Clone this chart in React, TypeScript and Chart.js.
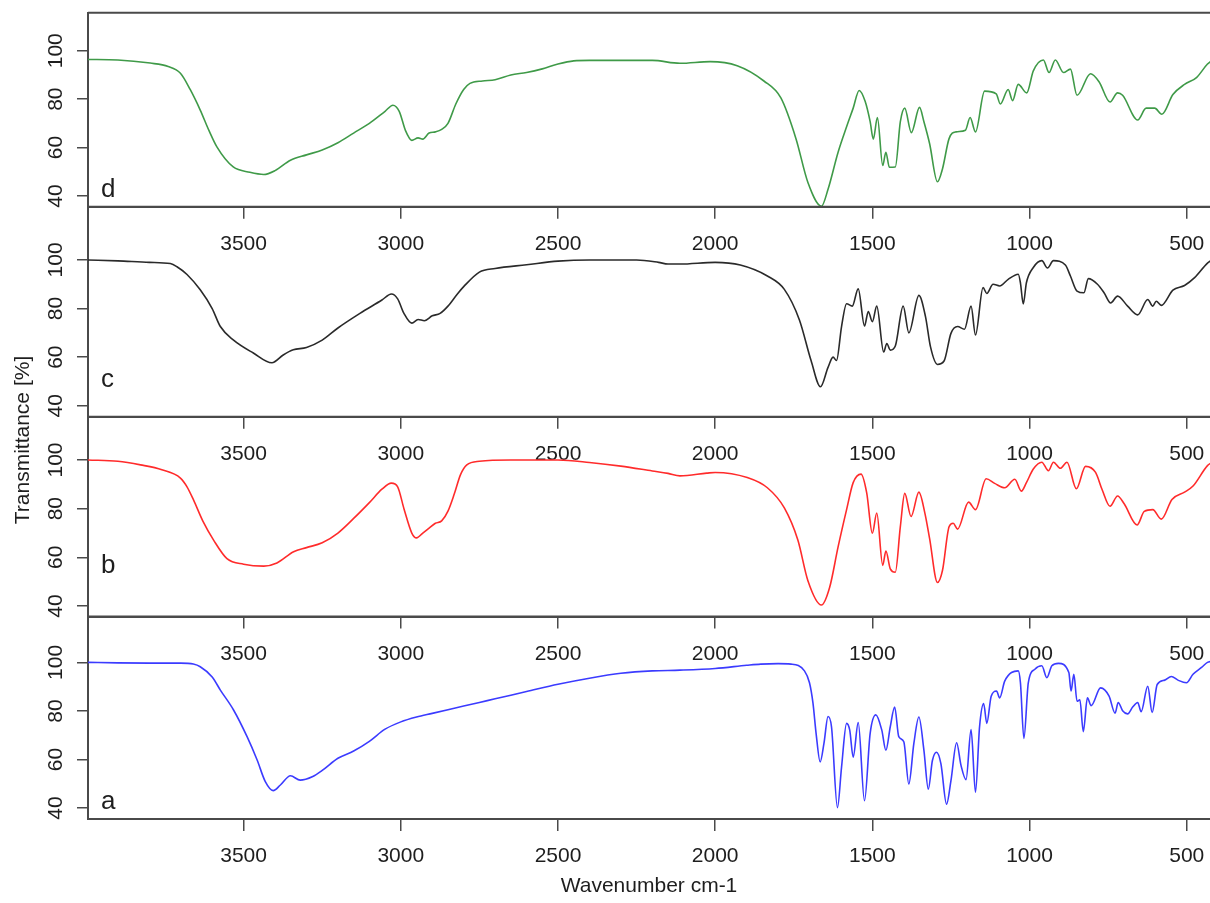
import React, { useEffect, useRef } from 'react';
import { Chart, registerables } from 'chart.js';

Chart.register(...registerables);

// ---------- data ----------
const X_TICKS = [3500, 3000, 2500, 2000, 1500, 1000, 500];
const Y_TICKS = [40, 60, 80, 100];
const WN_MIN = 426;
const WN_MAX = 3995;

// spectrum a (blue)
const A_WN = [3995, 3900, 3800, 3700, 3660, 3638, 3600, 3574, 3532, 3489, 3457, 3431, 3406, 3383, 3351, 3320, 3280, 3250, 3200, 3150, 3100, 3050, 3000, 2950, 2900, 2850, 2800, 2750, 2700, 2600, 2500, 2400, 2300, 2200, 2112, 2000, 1900, 1855, 1800, 1759, 1716, 1700, 1689, 1679, 1666, 1654, 1641, 1630, 1611, 1598, 1582, 1572, 1561, 1545, 1525, 1507, 1489, 1470, 1457, 1443, 1429, 1416, 1400, 1384, 1368, 1352, 1336, 1322, 1309, 1296, 1282, 1264, 1250, 1232, 1218, 1202, 1186, 1172, 1159, 1146, 1136, 1122, 1105, 1095, 1079, 1036, 1029, 1018, 1004, 983, 961, 945, 929, 908, 875, 868, 859, 849, 840, 829, 816, 804, 774, 747, 728, 718, 704, 688, 672, 656, 645, 624, 610, 594, 570, 549, 528, 501, 480, 453, 434, 420];
const A_T = [100, 99.8, 99.7, 99.7, 99.3, 98.2, 94, 88.6, 80.4, 69.4, 59.8, 50.9, 47.2, 49.5, 53.3, 51.5, 53, 55.5, 60.5, 63.5, 67.5, 72.5, 75.5, 77.5, 79, 80.5, 82, 83.5, 85, 88, 91, 93.5, 95.5, 96.5, 96.8, 97.5, 98.8, 99.3, 99.5, 99.3, 96.5, 91.6, 83.3, 70.8, 59, 66.6, 77.7, 73.5, 40.2, 56.9, 74.9, 72.1, 61, 75.2, 43, 70.8, 78.4, 72.1, 63.8, 73.5, 81.6, 69.4, 67.3, 49.9, 66.6, 77.5, 63.8, 47.8, 59.6, 63, 58.3, 41.6, 51.3, 66.9, 57.6, 51.7, 72.3, 46.5, 73.5, 83, 74.9, 86.1, 88.2, 85.4, 92.3, 96.5, 91.6, 68.7, 91.6, 97.2, 98.6, 93.7, 98.6, 99.6, 95.8, 88.2, 95.1, 84, 84.6, 71.5, 85.4, 82.2, 89.5, 86.1, 79.1, 83.5, 80.1, 78.8, 81.6, 83.5, 79.7, 90.2, 79.4, 90.9, 92.7, 94.2, 92.7, 91.6, 95.1, 97.9, 100, 100.5];

// spectrum b (red)
const B_WN = [3995, 3900, 3828, 3760, 3701, 3680, 3659, 3630, 3595, 3553, 3500, 3436, 3394, 3341, 3300, 3250, 3200, 3150, 3100, 3060, 3030, 3010, 2990, 2965, 2950, 2930, 2910, 2890, 2870, 2850, 2830, 2810, 2790, 2750, 2650, 2500, 2400, 2300, 2200, 2150, 2112, 2027, 2000, 1898, 1834, 1780, 1737, 1705, 1662, 1636, 1609, 1582, 1561, 1536, 1518, 1500, 1486, 1467, 1457, 1443, 1427, 1411, 1397, 1377, 1352, 1333, 1318, 1293, 1277, 1256, 1243, 1229, 1194, 1172, 1138, 1111, 1079, 1047, 1026, 1010, 988, 961, 940, 924, 902, 881, 851, 822, 790, 769, 744, 720, 699, 658, 635, 608, 581, 547, 507, 480, 434, 420];
const B_T = [100, 99.5, 98, 96, 92.6, 89, 83.5, 75, 67, 59.5, 57.2, 56.4, 57.7, 62.3, 64, 66, 70, 76, 82.5, 88, 90.5, 89, 80, 70, 68, 70, 72, 74, 75, 79, 86, 94, 98, 99.5, 100, 100, 99, 97.5, 95.5, 94.5, 93.5, 94.6, 94.9, 92.8, 88.6, 80.3, 67.1, 50.4, 40.4, 47.6, 64.3, 79.6, 90.7, 94.2, 86.5, 69.9, 78.2, 56.7, 62.6, 55.3, 53.9, 72.6, 86.3, 76.8, 86.8, 78.2, 67.8, 49.7, 54.6, 72.6, 74, 71.6, 82.7, 79.6, 92.3, 90.4, 88.6, 92.1, 87.2, 90.7, 96.3, 99.1, 95.6, 99.1, 96.6, 99.1, 88.2, 97.4, 94.9, 87.8, 81, 85.2, 82, 73.3, 78.9, 79.6, 75.7, 83.8, 86.8, 89.3, 97.7, 99];

// spectrum c (black)
const C_WN = [3995, 3900, 3800, 3733, 3712, 3680, 3638, 3600, 3574, 3532, 3469, 3410, 3374, 3342, 3300, 3250, 3200, 3130, 3060, 3030, 3010, 2990, 2965, 2945, 2925, 2900, 2875, 2850, 2820, 2800, 2750, 2700, 2600, 2500, 2400, 2250, 2180, 2150, 2112, 2000, 1920, 1834, 1780, 1732, 1695, 1665, 1641, 1625, 1614, 1598, 1582, 1564, 1545, 1525, 1513, 1500, 1486, 1464, 1454, 1443, 1427, 1402, 1384, 1352, 1331, 1315, 1293, 1272, 1250, 1229, 1207, 1186, 1172, 1148, 1136, 1116, 1095, 1068, 1036, 1029, 1020, 1010, 988, 961, 943, 924, 886, 870, 849, 827, 813, 784, 763, 742, 720, 688, 656, 624, 608, 597, 581, 544, 507, 475, 434, 420];
const C_T = [100, 99.6, 99, 98.5, 97.2, 94, 87.7, 80, 72.6, 67, 61.7, 57.7, 60.9, 63, 64, 67, 72, 78, 83.5, 86, 84, 78, 74, 75.5, 75, 77, 78, 81, 86, 89, 95, 96.5, 98, 99.5, 100, 100, 99, 98.3, 98.3, 99, 97.9, 93.4, 87.9, 75.3, 58.6, 47.8, 55.8, 60, 58.6, 72.6, 82, 81, 88.1, 72.8, 78.8, 74.6, 81, 62.1, 65.6, 62.9, 64.6, 81, 70, 85.4, 76.7, 64.2, 57, 58.4, 69.8, 72.6, 71.5, 81, 69.1, 88.6, 86.2, 90, 89.3, 92, 94.1, 90.6, 81.9, 90.6, 96.9, 99.7, 96.7, 99.7, 97.9, 93.4, 87.2, 86.5, 92.3, 90, 86.5, 82.3, 85.1, 81, 77.4, 83.7, 81, 83, 81.3, 87.6, 89.5, 92.7, 98.7, 100];

// spectrum d (green)
const D_WN = [3995, 3900, 3797, 3740, 3701, 3670, 3638, 3610, 3585, 3533, 3480, 3436, 3400, 3351, 3300, 3250, 3200, 3150, 3100, 3050, 3025, 3005, 2985, 2965, 2945, 2930, 2910, 2890, 2870, 2850, 2825, 2800, 2780, 2740, 2700, 2650, 2600, 2550, 2500, 2450, 2400, 2300, 2200, 2112, 2016, 1930, 1845, 1791, 1743, 1705, 1662, 1641, 1609, 1582, 1561, 1542, 1523, 1507, 1497, 1484, 1467, 1457, 1446, 1427, 1411, 1397, 1376, 1350, 1336, 1318, 1293, 1277, 1256, 1234, 1204, 1189, 1172, 1143, 1106, 1093, 1068, 1054, 1036, 1009, 988, 956, 938, 918, 892, 870, 849, 806, 779, 744, 720, 704, 656, 629, 602, 579, 544, 507, 469, 434, 420];
const D_T = [96.4, 96.2, 94.9, 93.5, 90.7, 84, 75.5, 67, 60.3, 52, 49.8, 48.9, 50.5, 54.8, 57, 59, 62, 66, 70, 75, 77.5, 75, 67, 63, 64, 63.5, 66, 66.5, 67.5, 70, 78, 84, 86.5, 87.5, 88, 90, 91, 92.5, 94.5, 95.8, 96, 96, 96, 94.8, 95.5, 93.8, 87.5, 80.5, 63.7, 45.6, 35.8, 42.8, 58.1, 68.6, 76.3, 83.6, 79.1, 70.7, 63.5, 72.4, 52.6, 58.1, 51.9, 52, 70.7, 76.3, 66.2, 76.6, 70.7, 61.7, 45.9, 51.2, 63.7, 66.5, 67.2, 72.4, 66.5, 83.3, 82.2, 78, 84, 79.4, 86.1, 82.6, 91.7, 96.2, 91, 96.2, 91, 92.4, 81.6, 90.5, 87.2, 78.8, 82.6, 81.6, 71.4, 76.3, 76.3, 73.8, 81.9, 86.1, 88.9, 94.5, 96];

// ---------- styling / layout ----------
const W = 1210;
const H = 903;
const FONT = '"Liberation Sans", Arial, Helvetica, sans-serif';
const AXIS_COLOR = '#4a4a4a';
const TEXT_COLOR = '#1e1e1e';

type Panel = {
  letter: string;
  wn: number[];
  t: number[];
  color: string;
  top: number;
  bottom: number;
  ymin: number;
  ymax: number;
  letterValue: number;
  titles: boolean;
};

const PANELS: Panel[] = [
  { letter: 'd', wn: D_WN, t: D_T, color: '#3f9a48', top: 12.7, bottom: 206.7, ymin: 35.6, ymax: 115.7, letterValue: 39.7, titles: false },
  { letter: 'c', wn: C_WN, t: C_T, color: '#2a2a2a', top: 206.7, bottom: 416.7, ymin: 35.5, ymax: 121.9, letterValue: 47.8, titles: false },
  { letter: 'b', wn: B_WN, t: B_T, color: '#ff2b2b', top: 416.7, bottom: 616.5, ymin: 35.7, ymax: 117.8, letterValue: 53.7, titles: false },
  { letter: 'a', wn: A_WN, t: A_T, color: '#3b3bff', top: 616.5, bottom: 819, ymin: 35.5, ymax: 118.9, letterValue: 39.5, titles: true },
];

const framePlugin = {
  id: 'frame',
  afterDraw(chart: any, _args: any, opts: any) {
    const { ctx, chartArea: ca, scales } = chart;
    ctx.save();
    // top border of the panel box
    ctx.strokeStyle = AXIS_COLOR;
    ctx.lineWidth = 2;
    ctx.beginPath();
    ctx.moveTo(ca.left, ca.top);
    ctx.lineTo(ca.right, ca.top);
    ctx.stroke();

    // rotated y tick labels
    ctx.fillStyle = TEXT_COLOR;
    ctx.font = `21px ${FONT}`;
    ctx.textAlign = 'center';
    ctx.textBaseline = 'middle';
    Y_TICKS.forEach((v) => {
      const y = scales.y.getPixelForValue(v);
      ctx.save();
      ctx.translate(ca.left - 32, y);
      ctx.rotate(-Math.PI / 2);
      ctx.fillText(String(v), 0, 0);
      ctx.restore();
    });

    // panel letter
    ctx.font = `26px ${FONT}`;
    ctx.textAlign = 'left';
    ctx.textBaseline = 'alphabetic';
    ctx.fillText(opts.letter, ca.left + 13, scales.y.getPixelForValue(opts.letterValue));

    if (opts.titles) {
      ctx.font = `21px ${FONT}`;
      ctx.textAlign = 'center';
      ctx.textBaseline = 'middle';
      ctx.fillText('Wavenumber cm-1', (ca.left + ca.right) / 2, ca.bottom + 67);
      ctx.save();
      ctx.translate(23, 440);
      ctx.rotate(-Math.PI / 2);
      ctx.fillText('Transmittance [%]', 0, 0);
      ctx.restore();
    }
    ctx.restore();
  },
};

function makeConfig(p: Panel): any {
  return {
    type: 'line',
    data: {
      datasets: [
        {
          data: p.wn.map((x, i) => ({ x, y: p.t[i] })),
          borderColor: p.color,
          borderWidth: 1.6,
          pointRadius: 0,
          fill: false,
          cubicInterpolationMode: 'monotone',
        },
      ],
    },
    options: {
      animation: false,
      responsive: false,
      events: [],
      layout: { padding: { top: p.top, left: 0, right: 0, bottom: 0 } },
      plugins: {
        legend: { display: false },
        tooltip: { enabled: false },
        frame: { letter: p.letter, letterValue: p.letterValue, titles: p.titles },
      },
      scales: {
        x: {
          type: 'linear',
          reverse: true,
          min: WN_MIN,
          max: WN_MAX,
          afterBuildTicks: (s: any) => {
            s.ticks = X_TICKS.map((v) => ({ value: v }));
          },
          afterFit: (s: any) => {
            s.height = H - p.bottom;
            s.paddingLeft = 0;
            s.paddingRight = 0;
          },
          grid: { display: true, drawOnChartArea: false, drawTicks: true, tickLength: 12, color: AXIS_COLOR, lineWidth: 1.5 },
          border: { display: true, color: AXIS_COLOR, width: 2 },
          ticks: {
            display: true,
            autoSkip: false,
            maxRotation: 0,
            minRotation: 0,
            padding: 13,
            color: TEXT_COLOR,
            font: { family: FONT, size: 21 },
            callback: (v: any) => String(v),
          },
        },
        y: {
          type: 'linear',
          min: p.ymin,
          max: p.ymax,
          afterBuildTicks: (s: any) => {
            s.ticks = Y_TICKS.map((v) => ({ value: v }));
          },
          afterFit: (s: any) => {
            s.width = 88;
            s.paddingTop = 0;
            s.paddingBottom = 0;
          },
          grid: { display: true, drawOnChartArea: false, drawTicks: true, tickLength: 11, color: AXIS_COLOR, lineWidth: 1.5 },
          border: { display: true, color: AXIS_COLOR, width: 2 },
          ticks: { display: false },
        },
      },
    },
    plugins: [framePlugin],
  };
}

export default function App() {
  const refs = [useRef<HTMLCanvasElement>(null), useRef<HTMLCanvasElement>(null), useRef<HTMLCanvasElement>(null), useRef<HTMLCanvasElement>(null)];

  useEffect(() => {
    const charts = PANELS.map((p, i) => new Chart(refs[i].current as HTMLCanvasElement, makeConfig(p)));
    return () => charts.forEach((c) => c.destroy());
  }, []);

  return (
    <div style={{ position: 'absolute', left: 0, top: 0, width: W, height: H, overflow: 'hidden', background: '#fff' }}>
      {PANELS.map((p, i) => (
        <canvas
          key={p.letter}
          ref={refs[i]}
          width={W}
          height={H}
          style={{ position: 'absolute', left: 0, top: 0, width: W, height: H }}
        />
      ))}
    </div>
  );
}
